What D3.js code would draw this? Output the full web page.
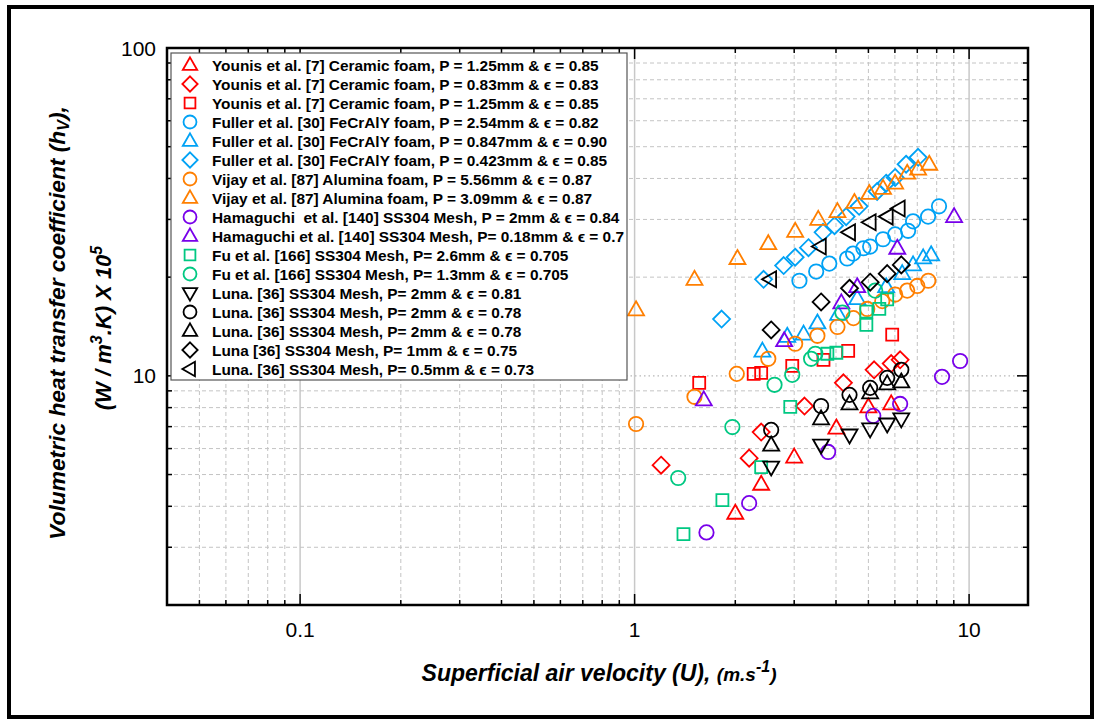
<!DOCTYPE html>
<html><head><meta charset="utf-8">
<script src="https://cdn.jsdelivr.net/npm/d3@7"></script>
<style>
body{margin:0;background:#fff;}
svg{display:block;}
text{font-family:"Liberation Sans",Arial,Helvetica,sans-serif;white-space:pre;}
</style>
</head><body>
<svg id="chart" width="1099" height="724"></svg>
<script>
// ---------------- DATA ----------------
const legendLabels = [
  "Younis et al. [7] Ceramic foam, P = 1.25mm & \u03f5 = 0.85",
  "Younis et al. [7] Ceramic foam, P = 0.83mm & \u03f5 = 0.83",
  "Younis et al. [7] Ceramic foam, P = 1.25mm & \u03f5 = 0.85",
  "Fuller et al. [30] FeCrAlY foam, P = 2.54mm & \u03f5 = 0.82",
  "Fuller et al. [30] FeCrAlY foam, P = 0.847mm & \u03f5 = 0.90",
  "Fuller et al. [30] FeCrAlY foam, P = 0.423mm & \u03f5 = 0.85",
  "Vijay et al. [87] Alumina foam, P = 5.56mm & \u03f5 = 0.87",
  "Vijay et al. [87] Alumina foam, P = 3.09mm & \u03f5 = 0.87",
  "Hamaguchi  et al. [140] SS304 Mesh, P = 2mm & \u03f5 = 0.84",
  "Hamaguchi et al. [140] SS304 Mesh, P= 0.18mm & \u03f5 = 0.7",
  "Fu et al. [166] SS304 Mesh, P= 2.6mm & \u03f5 = 0.705",
  "Fu et al. [166] SS304 Mesh, P= 1.3mm & \u03f5 = 0.705",
  "Luna. [36] SS304 Mesh, P= 2mm & \u03f5 = 0.81",
  "Luna. [36] SS304 Mesh, P= 2mm & \u03f5 = 0.78",
  "Luna. [36] SS304 Mesh, P= 2mm & \u03f5 = 0.78",
  "Luna [36] SS304 Mesh, P= 1mm & \u03f5 = 0.75",
  "Luna. [36] SS304 Mesh, P= 0.5mm & \u03f5 = 0.73"
];
const seriesColors = ["#ff0000","#ff0000","#ff0000","#00a2f5","#00a2f5","#00a2f5",
  "#ff7f00","#ff7f00","#7800ea","#7800ea","#00c882","#00c882",
  "#000000","#000000","#000000","#000000","#000000"];
const seriesShapes = ["up","diamond","square","circle","up","diamond","circle","up",
  "circle","up","square","circle","down","circle","up","diamond","left"];

// velocity U (m/s) and h_v (x10^5 W/m3K) per series
const younisTriU = [2.00, 2.39, 3.00, 4.01, 5.00, 5.85];
const younisTriH = [3.81, 4.67, 5.65, 6.93, 8.04, 8.21];
const younisDiaU = [1.20, 2.20, 2.39, 3.22, 4.21, 5.20, 5.85, 6.22];
const younisDiaH = [5.34, 5.61, 6.74, 8.09, 9.52, 10.43, 10.9, 11.19];
const younisSqU = [1.56, 2.27, 2.39, 2.96, 3.67, 4.35, 5.89];
const younisSqH = [9.52, 10.14, 10.21, 10.73, 11.19, 11.92, 13.35];
const fullerCirU = [3.11, 3.49, 3.82, 4.32, 4.50, 4.83, 5.06, 5.53, 6.01, 6.57, 6.80, 7.54, 8.13];
const fullerCirH = [19.5, 20.8, 22.0, 22.8, 23.6, 24.5, 24.8, 26.1, 27.0, 27.7, 29.6, 30.6, 32.9];
const fullerTriU = [2.41, 2.86, 3.20, 3.52, 4.06, 4.63, 5.65, 6.31, 6.80, 7.29, 7.70];
const fullerTriH = [11.9, 13.2, 13.4, 14.5, 15.4, 17.2, 18.7, 20.5, 21.8, 22.9, 23.4];
const fullerDiaU = [1.82, 2.43, 2.79, 3.02, 3.31, 3.66, 3.96, 4.29, 4.69, 5.31, 5.65, 6.01, 6.48, 7.04];
const fullerDiaH = [14.9, 19.7, 21.7, 23.0, 24.6, 27.4, 28.7, 30.6, 32.9, 36.5, 38.7, 40.3, 44.2, 46.4];
const vijayCirU = [1.01, 1.51, 2.02, 2.51, 3.02, 3.52, 4.04, 4.51, 4.96, 5.50, 6.01, 6.53, 7.00, 7.55];
const vijayCirH = [7.13, 8.63, 10.14, 11.27, 12.53, 13.25, 14.1, 15.0, 16.0, 16.9, 17.7, 18.2, 18.8, 19.5];
const vijayTriU = [1.01, 1.51, 2.03, 2.51, 3.02, 3.54, 4.04, 4.54, 5.03, 5.53, 6.01, 6.53, 7.04, 7.60];
const vijayTriH = [15.9, 19.7, 22.8, 25.3, 27.6, 30.0, 31.7, 33.8, 36.0, 37.3, 38.7, 41.5, 42.7, 44.2];
const hamaCirU = [1.64, 2.20, 3.79, 5.17, 6.22, 8.30, 9.40];
const hamaCirH = [3.33, 4.09, 5.86, 7.55, 8.21, 9.93, 11.1];
const hamaTriU = [1.61, 2.80, 4.15, 4.63, 6.10, 9.02];
const hamaTriH = [8.45, 12.8, 16.7, 18.7, 24.5, 30.6];
const fuSqU = [1.40, 1.83, 2.39, 2.92, 3.77, 4.01, 4.93, 4.93, 5.39, 5.69];
const fuSqH = [3.29, 4.18, 5.27, 8.04, 11.68, 11.76, 14.3, 15.7, 16.0, 17.1];
const fuCirU = [1.35, 1.96, 2.62, 2.96, 3.37, 3.47, 4.18, 5.24];
const fuCirH = [4.88, 6.98, 9.39, 10.07, 11.27, 11.68, 15.6, 18.2];
const lunaU = [2.56, 3.61, 4.39, 5.06, 5.69, 6.27];
const lunaDownH = [5.27, 6.15, 6.60, 6.89, 7.13, 7.39];
const lunaCirH = [6.84, 8.09, 8.75, 9.19, 9.86, 10.43];
const lunaUpH = [6.15, 7.39, 8.21, 8.87, 9.45, 9.58];
const lunaDiaH = [13.8, 16.8, 18.5, 19.3, 20.5, 21.8];
const lunaLeftU = [2.55, 3.59, 4.39, 5.06, 5.69, 6.18];
const lunaLeftH = [19.7, 24.8, 27.4, 29.4, 30.6, 32.4];

const xMajorTicks = [0.1, 1, 10];
const xTickLabels = ["0.1", "1", "10"];
const yMajorTicks = [10, 100];
const yTickLabels = ["10", "100"];

const seriesU = [younisTriU, younisDiaU, younisSqU, fullerCirU, fullerTriU, fullerDiaU,
  vijayCirU, vijayTriU, hamaCirU, hamaTriU, fuSqU, fuCirU, lunaU, lunaU, lunaU, lunaU, lunaLeftU];
const seriesH = [younisTriH, younisDiaH, younisSqH, fullerCirH, fullerTriH, fullerDiaH,
  vijayCirH, vijayTriH, hamaCirH, hamaTriH, fuSqH, fuCirH, lunaDownH, lunaCirH, lunaUpH, lunaDiaH, lunaLeftH];

// ---------------- LAYOUT ----------------
const svg = d3.select("#chart");
const L = 167, R = 1028, T = 48, B = 605;
const x = d3.scaleLog().domain([0.04, 15]).range([L, R]);
const y = d3.scaleLog().domain([2, 100]).range([B, T]);

// outer border
svg.append("rect").attr("x", 9).attr("y", 7).attr("width", 1083).attr("height", 710)
  .attr("fill", "none").attr("stroke", "#000").attr("stroke-width", 4);

function minorTicks(lo, hi) {
  const out = [];
  for (let e = -3; e <= 3; e++) for (let m = 2; m <= 9; m++) {
    const v = m * Math.pow(10, e);
    if (v > lo * 1.0001 && v < hi * 0.9999) out.push(v);
  }
  return out;
}
const xMinor = minorTicks(0.04, 15);
const yMinor = minorTicks(2, 100);

const grid = svg.append("g");
grid.selectAll(".gxm").data(xMinor).enter().append("line")
  .attr("x1", d => x(d)).attr("x2", d => x(d)).attr("y1", T).attr("y2", B)
  .attr("stroke", "#c4c4c4").attr("stroke-width", 1).attr("stroke-dasharray", "4,3");
grid.selectAll(".gxM").data(xMajorTicks).enter().append("line")
  .attr("x1", d => x(d)).attr("x2", d => x(d)).attr("y1", T).attr("y2", B)
  .attr("stroke", "#c8c8c8").attr("stroke-width", 1.5);
grid.selectAll(".gym").data(yMinor).enter().append("line")
  .attr("y1", d => y(d)).attr("y2", d => y(d)).attr("x1", L).attr("x2", R)
  .attr("stroke", "#c4c4c4").attr("stroke-width", 1).attr("stroke-dasharray", "4,3");
grid.selectAll(".gyM").data([10]).enter().append("line")
  .attr("y1", d => y(d)).attr("y2", d => y(d)).attr("x1", L).attr("x2", R)
  .attr("stroke", "#b8b8b8").attr("stroke-width", 1.2).attr("stroke-dasharray", "1.5,3");

// ticks on all four sides (inward)
const tk = svg.append("g").attr("stroke", "#000").attr("stroke-width", 1.5);
function xTicks(vals, len) {
  tk.selectAll(null).data(vals).enter().append("line")
    .attr("x1", d => x(d)).attr("x2", d => x(d)).attr("y1", B).attr("y2", B - len);
  tk.selectAll(null).data(vals).enter().append("line")
    .attr("x1", d => x(d)).attr("x2", d => x(d)).attr("y1", T).attr("y2", T + len);
}
function yTicks(vals, len) {
  tk.selectAll(null).data(vals).enter().append("line")
    .attr("y1", d => y(d)).attr("y2", d => y(d)).attr("x1", L).attr("x2", L + len);
  tk.selectAll(null).data(vals).enter().append("line")
    .attr("y1", d => y(d)).attr("y2", d => y(d)).attr("x1", R).attr("x2", R - len);
}
xTicks(xMinor, 5); xTicks(xMajorTicks, 11);
yTicks(yMinor, 5); yTicks(yMajorTicks, 11);

// frame
svg.append("rect").attr("x", L).attr("y", T).attr("width", R - L).attr("height", B - T)
  .attr("fill", "none").attr("stroke", "#000").attr("stroke-width", 2.5);

// tick labels
svg.selectAll(".xl").data(xMajorTicks).enter().append("text")
  .attr("x", d => x(d)).attr("y", 637).attr("text-anchor", "middle")
  .attr("font-size", 21).text((d, i) => xTickLabels[i]);
svg.selectAll(".yl").data(yMajorTicks).enter().append("text")
  .attr("x", 156).attr("y", d => y(d) + 7.5).attr("text-anchor", "end")
  .attr("font-size", 21).text((d, i) => yTickLabels[i]);

// axis titles
const xt = svg.append("text").attr("x", 599).attr("y", 681).attr("text-anchor", "middle")
  .attr("font-weight", "bold").attr("font-style", "italic").attr("font-size", 23);
xt.append("tspan").text("Superficial air velocity (U), ");
xt.append("tspan").attr("font-size", 19).text("(m.s");
xt.append("tspan").attr("font-size", 16).attr("dy", -9).text("-1");
xt.append("tspan").attr("font-size", 19).attr("dy", 9).text(")");

const yt1 = svg.append("text").attr("transform", "translate(65,323) rotate(-90)")
  .attr("text-anchor", "middle").attr("font-weight", "bold").attr("font-style", "italic").attr("font-size", 22.8);
yt1.append("tspan").text("Volumetric heat transfer coefficient (h");
yt1.append("tspan").attr("font-size", 16).attr("dy", 4).text("V");
yt1.append("tspan").attr("dy", -4).text("),");
const yt2 = svg.append("text").attr("transform", "translate(111,328) rotate(-90)")
  .attr("text-anchor", "middle").attr("font-weight", "bold").attr("font-style", "italic").attr("font-size", 22);
yt2.append("tspan").text("(W / m");
yt2.append("tspan").attr("font-size", 16).attr("dy", -9).text("3");
yt2.append("tspan").attr("dy", 9).text(".K) X 10");
yt2.append("tspan").attr("font-size", 16).attr("dy", -9).text("5");

// marker shapes
function shapePath(s, k) {
  k = k || 1;
  const a = 8 * k, b = 8.5 * k, c = 5.5 * k, q = 6 * k;
  switch (s) {
    case "up": return `M0,${-b}L${a},${c}L${-a},${c}Z`;
    case "down": return `M0,${b}L${a},${-c}L${-a},${-c}Z`;
    case "left": return `M${-b},0L${c},${-a}L${c},${a}Z`;
    case "diamond": return `M0,${-b}L${b},0L0,${b}L${-b},0Z`;
    case "square": return `M${-q},${-q}h${2*q}v${2*q}h${-2*q}Z`;
    default: return null;
  }
}
function drawMarker(sel, shape, color, k) {
  if (shape === "circle") {
    sel.append("circle").attr("r", 7.2 * k).attr("fill", "none")
      .attr("stroke", color).attr("stroke-width", 1.8);
  } else {
    sel.append("path").attr("d", shapePath(shape, k)).attr("fill", "none")
      .attr("stroke", color).attr("stroke-width", 1.8).attr("stroke-linejoin", "miter");
  }
}

// points
const pts = svg.append("g");
seriesU.forEach((us, si) => {
  const data = us.map((u, i) => ({u: u, h: seriesH[si][i]}));
  pts.selectAll(null).data(data).enter().append("g")
    .attr("transform", d => `translate(${x(d.u)},${y(d.h)})`)
    .each(function () { drawMarker(d3.select(this), seriesShapes[si], seriesColors[si], 1); });
});

// legend
const lg = svg.append("g");
lg.append("rect").attr("x", 171).attr("y", 53).attr("width", 456).attr("height", 327)
  .attr("fill", "#fff").attr("stroke", "#555").attr("stroke-width", 1.2);
legendLabels.forEach((lab, i) => {
  const cy = 65 + i * 19;
  const g = lg.append("g").attr("transform", `translate(190,${cy})`);
  drawMarker(g, seriesShapes[i], seriesColors[i], 0.9);
  lg.append("text").attr("x", 212).attr("y", cy).attr("dy", "0.36em")
    .attr("font-weight", "bold").attr("font-size", 15.4).text(lab);
});
</script>
</body></html>
